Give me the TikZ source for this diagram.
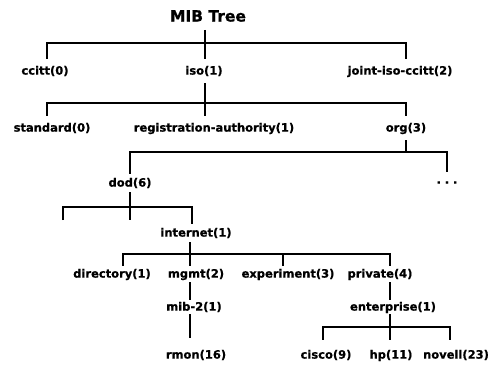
\documentclass[tikz,border=0pt]{standalone}
\usepackage{fontspec}
\setmainfont{DejaVu Sans}
\newfontfamily\heavyfont[FakeBold=0.8]{DejaVu Sans Bold}
\begin{document}
\begin{tikzpicture}[x=1pt,y=-1pt,
  lbl/.style={font=\heavyfont\fontsize{11.5}{13}\selectfont, inner sep=0pt,
              text height=8.7pt, text depth=1.5pt, outer ysep=3pt},
  tree/.style={line width=1.4pt, black}]
\useasboundingbox (0,0) rectangle (497,381);
% labels
\node[font=\heavyfont\fontsize{15.5}{17}\selectfont, inner sep=0pt, outer ysep=8pt] (root) at (208,16) {MIB Tree};
\node[lbl, outer ysep=7pt] (ccitt) at (45,71) {ccitt(0)};
\node[lbl, outer ysep=7pt] (iso) at (204,71) {iso(1)};
\node[lbl, outer ysep=7pt] (joint) at (400,71) {joint-iso-ccitt(2)};
\node[lbl, outer ysep=7pt] (standard) at (52,128) {standard(0)};
\node[lbl, outer ysep=7pt] (reg) at (214,128) {registration-authority(1)};
\node[lbl, outer ysep=7pt] (org) at (406,128) {org(3)};
\node[lbl, outer ysep=4pt] (dod) at (130,183) {dod(6)};
\node[lbl, outer ysep=3pt] (dots) at (447,180) {.\,\,.\,\,.};
\coordinate (u1) at (63,220);
\coordinate (u2) at (130,220);
\node[lbl, outer ysep=4pt] (internet) at (196,233) {internet(1)};
\node[lbl] (directory) at (112,274) {directory(1)};
\node[lbl] (mgmt) at (196,274) {mgmt(2)};
\node[lbl] (experiment) at (288,274) {experiment(3)};
\node[lbl] (private) at (380,274) {private(4)};
\node[lbl, outer ysep=2pt] (mib) at (194,307) {mib-2(1)};
\node[lbl, outer ysep=2pt] (enterprise) at (393,307) {enterprise(1)};
\node[lbl, outer ysep=12pt] (rmon) at (196,355) {rmon(16)};
\node[lbl, outer ysep=10pt] (cisco) at (326,355) {cisco(9)};
\node[lbl, outer ysep=10pt] (hp) at (391,355) {hp(11)};
\node[lbl, outer ysep=10pt] (novell) at (456,355) {novell(23)};
% connectors
\draw[tree] ([xshift=-3pt]root.south) -- ([xshift=1pt]iso.north);
\draw[tree] ([xshift=2pt]ccitt.north) -- ++(0,-16) -| ([xshift=6pt]joint.north);
\draw[tree] ([xshift=1pt]iso.south) -- ([xshift=-9pt]reg.north);
\draw[tree] ([xshift=-5pt]standard.north) -- ++(0,-13) -| (org.north);
\draw[tree] (org.south) |- ([yshift=22pt]dod.north);
\draw[tree] (dod.north) -- ++(0,-22) -| (dots.north);
\draw[tree] (dod.south) -- (u2);
\draw[tree] (u1) -- ++(0,-13) -| ([xshift=-4pt]internet.north);
\draw[tree] ([xshift=-6pt]internet.south) -- ([xshift=-6pt]mgmt.north);
\draw[tree] ([xshift=11pt]directory.north) -- ++(0,-12) -| ([xshift=10pt]private.north);
\draw[tree] ([xshift=-5pt]experiment.north) -- ++(0,-12);
\draw[tree] ([xshift=-6pt]mgmt.south) -- ([xshift=-4pt]mib.north);
\draw[tree] ([xshift=-4pt]mib.south) -- ([xshift=-6pt]rmon.north);
\draw[tree] ([xshift=10pt]private.south) -- ([xshift=-3pt]enterprise.north);
\draw[tree] ([xshift=-3pt]enterprise.south) -- ([xshift=-1pt]hp.north);
\draw[tree] ([xshift=-3pt]cisco.north) -- ++(0,-13) -| ([xshift=-6pt]novell.north);
\end{tikzpicture}
\end{document}
